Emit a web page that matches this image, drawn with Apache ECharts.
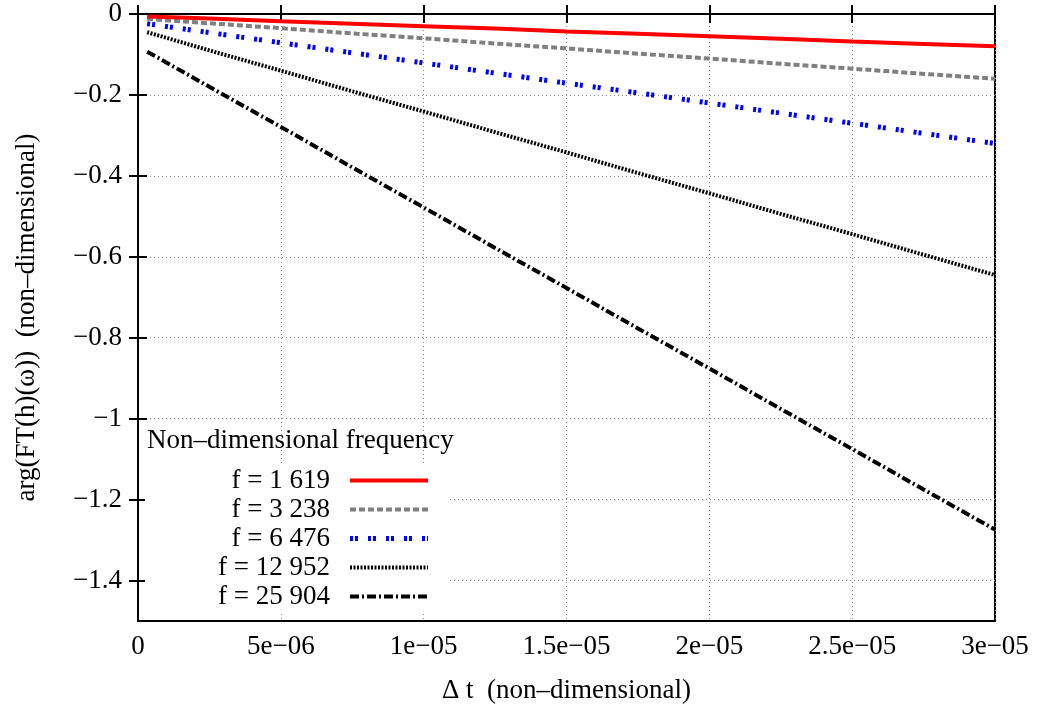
<!DOCTYPE html>
<html><head><meta charset="utf-8">
<script src="https://cdn.jsdelivr.net/npm/echarts@6/dist/echarts.min.js"></script>
<style>html,body{margin:0;padding:0;background:#fff}#c{width:1039px;height:713px}</style>
</head><body><div id="c"></div>
<script>
// Δt values (non-dimensional)
const dt = [0.32e-6, 2.5e-6, 5e-6, 7.5e-6, 1e-5, 1.25e-5, 1.5e-5, 1.75e-5, 2e-5, 2.25e-5, 2.5e-5, 2.75e-5, 3e-5];
const seriesNames = ['f = 1 619', 'f = 3 238', 'f = 6 476', 'f = 12 952', 'f = 25 904'];
const f1619  = [-0.006, -0.011, -0.018, -0.024, -0.030, -0.036, -0.043, -0.049, -0.055, -0.061, -0.068, -0.074, -0.080];
const f3238  = [-0.012, -0.023, -0.035, -0.048, -0.060, -0.073, -0.085, -0.098, -0.110, -0.123, -0.135, -0.148, -0.160];
const f6476  = [-0.024, -0.046, -0.071, -0.096, -0.121, -0.146, -0.171, -0.195, -0.220, -0.245, -0.270, -0.295, -0.320];
const f12952 = [-0.045, -0.090, -0.140, -0.191, -0.241, -0.292, -0.342, -0.393, -0.443, -0.494, -0.544, -0.595, -0.645];
const f25904 = [-0.093, -0.180, -0.279, -0.379, -0.478, -0.578, -0.677, -0.777, -0.876, -0.976, -1.075, -1.175, -1.274];
const xTickLabels = ['0', '5e\u221206', '1e\u221205', '1.5e\u221205', '2e\u221205', '2.5e\u221205', '3e\u221205'];
const yTickValues = [0, -0.2, -0.4, -0.6, -0.8, -1.0, -1.2, -1.4];
const yTickLabels = ['0', '\u22120.2', '\u22120.4', '\u22120.6', '\u22120.8', '\u22121', '\u22121.2', '\u22121.4'];
const legendTitle = 'Non\u2013dimensional frequency';
const xName = '\u0394 t  (non\u2013dimensional)';
const yName = 'arg(FT(h)(\u03c9))  (non\u2013dimensional)';

const FONT = 'Liberation Serif';
const pairs = arr => dt.map((x, i) => [x, arr[i]]);
const styles = [
  {color: '#ff0000', width: 4, type: 'solid'},
  {color: '#808080', width: 4, type: [6, 3]},
  {color: '#0000ff', width: 5, type: [3, 2, 3, 10]},
  {color: '#000000', width: 4, type: [2, 1.5]},
  {color: '#000000', width: 4, type: [9, 3, 2, 3]}
];
const allData = [f1619, f3238, f6476, f12952, f25904];

const chart = echarts.init(document.getElementById('c'), null, {renderer: 'canvas'});
const xAxisBase = {
  type: 'value', min: 0, max: 3e-5, interval: 5e-6,
  axisLine: {show: true, lineStyle: {color: '#000', width: 2}},
  axisTick: {show: true, inside: true, length: 9, lineStyle: {color: '#000', width: 2}},
};
const yAxisBase = {
  type: 'value', min: -1.5, max: 0,
  axisLine: {show: true, lineStyle: {color: '#000', width: 2}},
  axisTick: {show: true, inside: true, length: 9, customValues: yTickValues, lineStyle: {color: '#000', width: 2}},
};
chart.setOption({
  animation: false,
  backgroundColor: '#fff',
  grid: {left: 138, right: 44, top: 14, bottom: 92, show: true, borderColor: '#000', borderWidth: 2,
    containLabel: false, outerBoundsMode: 'none'},
  xAxis: [
    Object.assign({}, xAxisBase, {
      position: 'bottom',
      name: xName, nameLocation: 'middle', nameGap: 56,
      nameTextStyle: {fontFamily: FONT, fontSize: 27, color: '#000'},
      axisLabel: {margin: 12, fontFamily: FONT, fontSize: 27, color: '#000',
        formatter: v => xTickLabels[Math.round(v / 5e-6)]},
      splitLine: {show: true, lineStyle: {color: '#888', width: 1, type: [1, 3]}}
    }),
    Object.assign({}, xAxisBase, {position: 'top', axisLabel: {show: false}, splitLine: {show: false}})
  ],
  yAxis: [
    Object.assign({}, yAxisBase, {
      position: 'left',
      name: yName, nameLocation: 'middle', nameGap: 98, nameRotate: 90,
      nameTextStyle: {fontFamily: FONT, fontSize: 27, color: '#000'},
      axisLabel: {margin: 16, fontFamily: FONT, fontSize: 27, color: '#000', customValues: yTickValues,
        formatter: v => {
          let best = 0;
          yTickValues.forEach((t, i) => { if (Math.abs(t - v) < Math.abs(yTickValues[best] - v)) best = i; });
          return yTickLabels[best];
        }},
      splitLine: {show: true, lineStyle: {color: '#888', width: 1, type: [1, 3]}}
    }),
    Object.assign({}, yAxisBase, {position: 'right', axisLabel: {show: false}, splitLine: {show: false}})
  ],
  legend: {
    orient: 'vertical', align: 'right',
    left: 145, top: 466,
    itemWidth: 78, itemHeight: 14, itemGap: 0,
    backgroundColor: '#fff',
    padding: [0, 17, 2, 5],
    itemStyle: {opacity: 0},
    lineStyle: {width: 'inherit', type: 'inherit', color: 'inherit'},
    textStyle: {fontFamily: FONT, fontSize: 27, color: '#000', width: 180, align: 'right', lineHeight: 29, padding: [0, 15, 0, 0]},
    data: seriesNames
  },
  graphic: [{
    type: 'text', left: 147, top: 427, z: 100,
    style: {text: legendTitle, font: '27px "Liberation Serif"', fill: '#000'}
  }],
  series: allData.map((arr, i) => ({
    name: seriesNames[i], type: 'line', data: pairs(arr), symbol: 'none', showSymbol: false,
    xAxisIndex: 0, yAxisIndex: 0,
    lineStyle: {color: styles[i].color, width: styles[i].width, type: styles[i].type},
    itemStyle: {color: styles[i].color},
    z: 5 - i
  }))
});
</script>
</body></html>
